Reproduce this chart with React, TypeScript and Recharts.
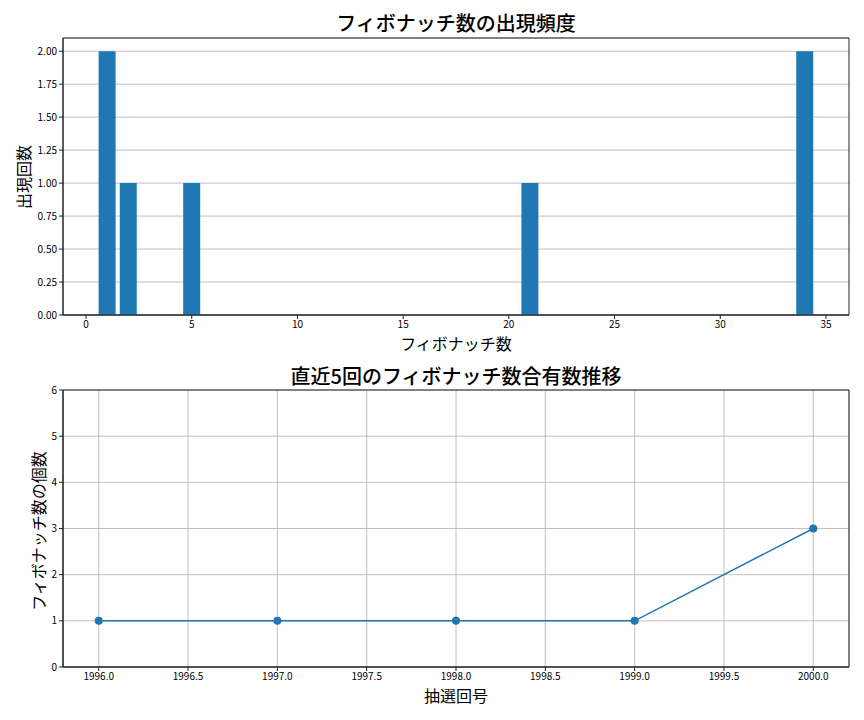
import React from "react";
import {
  ComposedChart,
  Bar,
  Line,
  XAxis,
  YAxis,
  CartesianGrid,
  ReferenceArea,
} from "recharts";

const fibNumbers = [1, 2, 5, 21, 34];
const fibCounts = [2, 1, 1, 1, 2];
const fibXTicks = [0, 5, 10, 15, 20, 25, 30, 35];
const fibYTicks = [0, 0.25, 0.5, 0.75, 1.0, 1.25, 1.5, 1.75, 2.0];

const drawNumbers = [1996, 1997, 1998, 1999, 2000];
const drawFibCounts = [1, 1, 1, 1, 3];
const drawXTicks = [1996, 1996.5, 1997, 1997.5, 1998, 1998.5, 1999, 1999.5, 2000];
const drawYTicks = [0, 1, 2, 3, 4, 5, 6];

const topTitle = "フィボナッチ数の出現頻度";
const topXLabel = "フィボナッチ数";
const topYLabel = "出現回数";
const bottomTitle = "直近5回のフィボナッチ数合有数推移";
const bottomXLabel = "抽選回号";
const bottomYLabel = "フィボナッチ数の個数";

const FONT = "'Noto Sans CJK JP', 'Noto Sans', sans-serif";
const BLUE = "#1f77b4";
const tickStyle = { fontSize: 10, fill: "#000", fontFamily: FONT };

const barData = fibNumbers.map((n, i) => ({ x: n, y: fibCounts[i] }));
const lineData = drawNumbers.map((n, i) => ({ x: n, y: drawFibCounts[i] }));

const TOP_X_DOMAIN: [number, number] = [-1.09, 36.09];
const TOP_Y_DOMAIN: [number, number] = [0, 2.1];
const BOT_X_DOMAIN: [number, number] = [1995.8, 2000.2];
const BOT_Y_DOMAIN: [number, number] = [0, 6];

const textStyle: React.CSSProperties = {
  position: "absolute",
  fontFamily: FONT,
  color: "#000",
  whiteSpace: "nowrap",
  lineHeight: 1,
};

export default function App() {
  return (
    <div
      style={{
        position: "absolute",
        left: 0,
        top: 0,
        width: 864,
        height: 720,
        background: "#fff",
        overflow: "hidden",
      }}
    >
      <div style={{ position: "absolute", left: 0, top: 0 }}>
        <ComposedChart
          width={864}
          height={360}
          data={barData}
          margin={{ top: 38, right: 15, bottom: 25, left: 23 }}
        >
          <CartesianGrid
            horizontal={true}
            vertical={false}
            stroke="#b0b0b0"
            strokeWidth={0.8}
          />
          <XAxis
            dataKey="x"
            type="number"
            domain={TOP_X_DOMAIN}
            ticks={fibXTicks}
            allowDataOverflow
            height={20}
            tick={tickStyle}
            tickSize={4}
            tickLine={{ stroke: "#222" }}
            axisLine={{ stroke: "#222" }}
            interval={0}
          />
          <YAxis
            type="number"
            domain={TOP_Y_DOMAIN}
            ticks={fibYTicks}
            allowDataOverflow
            width={40}
            tick={tickStyle}
            tickSize={4}
            tickLine={{ stroke: "#222" }}
            axisLine={{ stroke: "#222" }}
            tickFormatter={(v: number) => v.toFixed(2)}
            interval={0}
          />
          <Bar
            dataKey="y"
            fill={BLUE}
            barSize={17}
            isAnimationActive={false}
          />
          <ReferenceArea
            x1={TOP_X_DOMAIN[0]}
            x2={TOP_X_DOMAIN[1]}
            y1={TOP_Y_DOMAIN[0]}
            y2={TOP_Y_DOMAIN[1]}
            fill="none"
            fillOpacity={0}
            stroke="#222"
            strokeWidth={1}
            ifOverflow="visible"
          />
        </ComposedChart>
      </div>

      <div style={{ position: "absolute", left: 0, top: 360 }}>
        <ComposedChart
          width={864}
          height={360}
          data={lineData}
          margin={{ top: 30, right: 15, bottom: 33, left: 23 }}
        >
          <CartesianGrid
            horizontal={true}
            vertical={true}
            stroke="#b0b0b0"
            strokeWidth={0.8}
          />
          <XAxis
            dataKey="x"
            type="number"
            domain={BOT_X_DOMAIN}
            ticks={drawXTicks}
            allowDataOverflow
            height={20}
            tick={tickStyle}
            tickSize={4}
            tickLine={{ stroke: "#222" }}
            axisLine={{ stroke: "#222" }}
            tickFormatter={(v: number) => v.toFixed(1)}
            interval={0}
          />
          <YAxis
            type="number"
            domain={BOT_Y_DOMAIN}
            ticks={drawYTicks}
            allowDataOverflow
            width={40}
            tick={tickStyle}
            tickSize={4}
            tickLine={{ stroke: "#222" }}
            axisLine={{ stroke: "#222" }}
            interval={0}
          />
          <Line
            dataKey="y"
            type="linear"
            stroke={BLUE}
            strokeWidth={1.5}
            dot={{ r: 4, fill: BLUE, stroke: BLUE, strokeWidth: 0 }}
            isAnimationActive={false}
          />
          <ReferenceArea
            x1={BOT_X_DOMAIN[0]}
            x2={BOT_X_DOMAIN[1]}
            y1={BOT_Y_DOMAIN[0]}
            y2={BOT_Y_DOMAIN[1]}
            fill="none"
            fillOpacity={0}
            stroke="#222"
            strokeWidth={1}
            ifOverflow="visible"
          />
        </ComposedChart>
      </div>

      <div
        style={{
          ...textStyle,
          left: 456,
          top: 23,
          fontSize: 20,
          fontWeight: 500,
          transform: "translate(-50%, -50%)",
        }}
      >
        {topTitle}
      </div>
      <div
        style={{
          ...textStyle,
          left: 456,
          top: 343,
          fontSize: 16,
          transform: "translate(-50%, -50%)",
        }}
      >
        {topXLabel}
      </div>
      <div
        style={{
          ...textStyle,
          left: 23,
          top: 177,
          fontSize: 16,
          transform: "translate(-50%, -50%) rotate(-90deg)",
        }}
      >
        {topYLabel}
      </div>

      <div
        style={{
          ...textStyle,
          left: 456,
          top: 376,
          fontSize: 20,
          fontWeight: 500,
          transform: "translate(-50%, -50%)",
        }}
      >
        {bottomTitle}
      </div>
      <div
        style={{
          ...textStyle,
          left: 456,
          top: 695,
          fontSize: 16,
          transform: "translate(-50%, -50%)",
        }}
      >
        {bottomXLabel}
      </div>
      <div
        style={{
          ...textStyle,
          left: 38,
          top: 531,
          fontSize: 16,
          transform: "translate(-50%, -50%) rotate(-90deg)",
        }}
      >
        {bottomYLabel}
      </div>
    </div>
  );
}
